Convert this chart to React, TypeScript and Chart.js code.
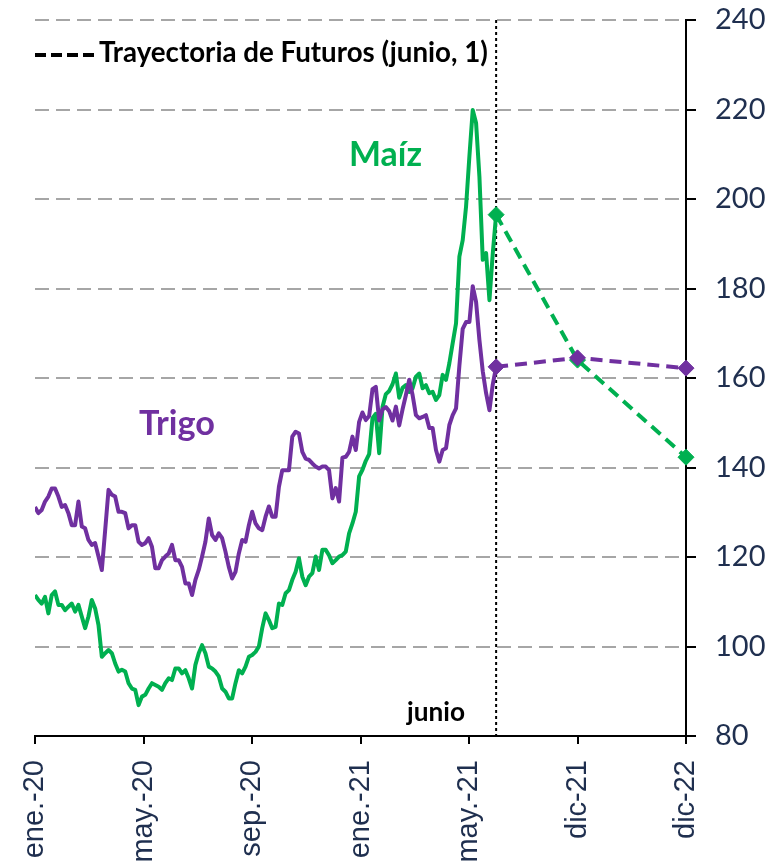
import React, { useEffect, useRef } from "react";
import { Chart, registerables } from "chart.js";

Chart.register(...registerables);

// ---- data -------------------------------------------------------------
// x axis: one unit per labelled tick (ene.-20 = 0 ... dic-22 = 6)
const xTickLabels = ["ene.-20", "may.-20", "sep.-20", "ene.-21", "may.-21", "dic-21", "dic-22"];
const yTickValues = [80, 100, 120, 140, 160, 180, 200, 220, 240];

// June 1st 2021 position on the tick axis (end of history, start of futures)
const junioX = 4.25;

// Historical index values, evenly spaced trading samples from ene.-20 to junio 1
const trigoHist = [
  131.2, 129.8, 130.5, 132.4, 133.5, 135.3, 135.3, 133.5, 131.2, 131.6,
  129.8, 127.1, 127.1, 132.4, 126.8, 126.4, 123.8, 122.7, 123.1, 120.1,
  117.1, 126.0, 135.0, 133.9, 133.5, 130.1, 130.1, 129.8, 126.4, 127.1,
  127.1, 123.4, 122.7, 123.1, 124.2, 122.3, 117.5, 117.5, 119.3, 120.1,
  120.8, 122.7, 119.3, 119.3, 117.8, 114.1, 114.1, 111.5, 114.9, 117.1,
  120.1, 123.4, 128.6, 124.9, 123.8, 125.3, 124.2, 121.2, 117.8, 115.2,
  116.7, 120.8, 123.8, 123.4, 127.1, 130.1, 127.5, 126.4, 126.0, 129.0,
  131.3, 129.0, 129.0, 135.7, 139.4, 139.4, 139.4, 146.9, 148.0, 147.6,
  143.5, 142.0, 141.7, 140.9, 140.2, 139.8, 140.2, 140.2, 139.4, 133.1,
  135.4, 132.4, 142.2, 142.4, 143.5, 146.9, 143.9, 150.2, 152.3, 150.6,
  151.5, 157.5, 158.0, 150.5, 153.0, 153.5, 152.6, 150.5, 153.6, 149.4,
  153.0, 156.2, 159.6, 156.2, 151.7, 151.0, 151.3, 151.7, 148.8, 148.8,
  143.9, 141.3, 143.9, 144.3, 149.5, 151.7, 153.2, 162.7, 171.0, 172.5,
  172.5, 180.5, 177.0, 168.5, 161.5, 156.6, 152.8, 158.6, 162.5,
];

const maizHist = [
  111.5, 110.4, 109.6, 111.1, 107.4, 111.5, 112.3, 109.3, 109.3, 108.1,
  108.9, 109.6, 107.8, 109.3, 106.7, 104.1, 106.7, 110.4, 108.5, 104.8,
  97.7, 98.5, 99.2, 98.5, 96.2, 94.4, 94.8, 94.4, 91.8, 90.6,
  90.3, 86.9, 88.8, 89.2, 90.6, 91.8, 91.4, 91.0, 90.3, 91.8,
  92.9, 92.5, 95.1, 95.1, 94.0, 94.7, 92.9, 90.6, 95.9, 98.5,
  100.3, 98.5, 95.5, 95.1, 94.4, 93.3, 90.6, 89.9, 88.4, 88.4,
  91.8, 94.7, 94.0, 95.5, 97.7, 98.1, 98.8, 100.0, 104.1, 107.4,
  105.9, 104.1, 104.4, 109.6, 109.3, 111.9, 112.6, 114.9, 116.7, 119.7,
  115.6, 113.7, 115.6, 116.4, 120.1, 117.1, 121.6, 121.6, 120.4, 118.6,
  119.3, 120.1, 120.4, 121.2, 125.3, 127.5, 130.1, 138.0, 139.5, 141.5,
  143.0, 151.0, 152.0, 143.2, 153.5, 156.4, 157.1, 158.6, 161.0, 155.6,
  157.8, 158.4, 156.9, 157.7, 160.3, 161.0, 157.7, 158.4, 156.6, 156.9,
  155.1, 156.2, 160.7, 159.6, 163.3, 167.8, 172.2, 187.1, 190.8, 198.3,
  209.5, 219.9, 217.0, 205.0, 186.4, 187.9, 177.4, 187.9, 196.5,
];

// Futures trajectory (junio 1): positions junio, dic-21, dic-22
const futuresX = [junioX, 5, 6];
const trigoFutures = [162.5, 164.5, 162.2];
const maizFutures = [196.5, 164.0, 142.3];

// ---- styles -------------------------------------------------------------
const GREEN = "#00B050";
const PURPLE = "#7030A0";
const NAVY = "#1F2F4F";
const GRID = "#A6A6A6";

const histPoints = (vals: number[]) =>
  vals.map((v, i) => ({ x: (i * junioX) / (vals.length - 1), y: v }));
const futPoints = (vals: number[]) => futuresX.map((x, i) => ({ x, y: vals[i] }));

function drawFitted(
  ctx: CanvasRenderingContext2D,
  text: string,
  x: number,
  baseline: number,
  targetW: number,
  family: string,
  color: string
) {
  ctx.font = `bold 40px ${family}`;
  const w = ctx.measureText(text).width;
  const size = (40 * targetW) / w;
  ctx.font = `bold ${size}px ${family}`;
  ctx.fillStyle = color;
  ctx.textAlign = "left";
  ctx.textBaseline = "alphabetic";
  ctx.fillText(text, x, baseline);
}

const overlayPlugin = {
  id: "overlay",
  beforeDatasetsDraw(chart: any) {
    const { ctx, chartArea, scales } = chart;
    const x = scales.x.getPixelForValue(junioX);
    ctx.save();
    ctx.strokeStyle = "#000";
    ctx.lineWidth = 2;
    ctx.setLineDash([3, 3]);
    ctx.beginPath();
    ctx.moveTo(x, chartArea.top);
    ctx.lineTo(x, chartArea.bottom);
    ctx.stroke();
    ctx.restore();
  },
  afterDraw(chart: any) {
    const { ctx } = chart;
    const fam = "Lato, 'Open Sans', sans-serif";
    ctx.save();
    // legend dash sample
    ctx.strokeStyle = "#000";
    ctx.lineWidth = 4;
    ctx.setLineDash([11, 5]);
    ctx.beginPath();
    ctx.moveTo(35, 55);
    ctx.lineTo(95, 55);
    ctx.stroke();
    ctx.setLineDash([]);
    drawFitted(ctx, "Trayectoria de Futuros (junio, 1)", 99, 62, 389, fam, "#000");
    drawFitted(ctx, "Maíz", 349, 166, 73, fam, GREEN);
    drawFitted(ctx, "Trigo", 139, 435, 76, fam, PURPLE);
    drawFitted(ctx, "junio", 407, 721, 58, fam, "#000");
    ctx.restore();
  },
};

export default function App() {
  const ref = useRef<HTMLCanvasElement | null>(null);

  useEffect(() => {
    document.body.style.margin = "0";
    const canvas = ref.current;
    if (!canvas) return;
    const chart = new Chart(canvas, {
      type: "line",
      data: {
        datasets: [
          {
            label: "Trigo futuros",
            data: futPoints(trigoFutures),
            borderColor: PURPLE,
            backgroundColor: PURPLE,
            borderWidth: 4,
            borderDash: [12, 7],
            pointStyle: "rectRot",
            pointRadius: 8,
            pointBorderWidth: 1,
            pointBackgroundColor: PURPLE,
            pointBorderColor: PURPLE,
            clip: false,
          },
          {
            label: "Maíz futuros",
            data: futPoints(maizFutures),
            borderColor: GREEN,
            backgroundColor: GREEN,
            borderWidth: 4,
            borderDash: [12, 7],
            pointStyle: "rectRot",
            pointRadius: 8,
            pointBorderWidth: 1,
            pointBackgroundColor: GREEN,
            pointBorderColor: GREEN,
            clip: false,
          },
          {
            label: "Trigo",
            data: histPoints(trigoHist),
            borderColor: PURPLE,
            borderWidth: 4,
            pointRadius: 0,
            tension: 0,
            borderJoinStyle: "round",
          },
          {
            label: "Maíz",
            data: histPoints(maizHist),
            borderColor: GREEN,
            borderWidth: 4,
            pointRadius: 0,
            tension: 0,
            borderJoinStyle: "round",
          },
        ],
      } as any,
      options: {
        animation: false,
        responsive: false,
        maintainAspectRatio: false,
        layout: { padding: { top: 20, left: 35, right: 0, bottom: 0 } },
        plugins: {
          legend: { display: false },
          tooltip: { enabled: false },
          title: { display: false },
        },
        scales: {
          x: {
            type: "linear",
            position: "bottom",
            min: 0,
            max: xTickLabels.length - 1,
            afterBuildTicks: (s: any) => {
              s.ticks = xTickLabels.map((_, i) => ({ value: i }));
            },
            afterFit: (s: any) => {
              s.height = 128;
            },
            ticks: {
              autoSkip: false,
              minRotation: 90,
              maxRotation: 90,
              padding: 16,
              color: NAVY,
              font: { family: "'Liberation Sans', Arial, sans-serif", size: 29 },
              callback: (v: any) => xTickLabels[Math.round(v)] ?? "",
            },
            grid: {
              drawOnChartArea: false,
              drawTicks: true,
              tickLength: 8,
              tickColor: "#000",
              tickWidth: 2,
              color: "#000",
              lineWidth: 2,
            },
            border: { display: true, color: "#000", width: 2 },
          },
          y: {
            type: "linear",
            position: "right",
            min: yTickValues[0],
            max: yTickValues[yTickValues.length - 1],
            afterBuildTicks: (s: any) => {
              s.ticks = yTickValues.map((v) => ({ value: v }));
            },
            afterFit: (s: any) => {
              s.width = 93;
              s.paddingTop = 0;
              s.paddingBottom = 0;
            },
            ticks: {
              padding: 19,
              color: NAVY,
              font: { family: "Lato, 'Open Sans', sans-serif", size: 29 },
              callback: (v: any) => String(v),
            },
            grid: {
              color: (c: any) => (c.tick && c.tick.value === yTickValues[0] ? "rgba(0,0,0,0)" : GRID),
              lineWidth: 2,
              drawTicks: true,
              tickLength: 10,
              tickColor: "#000",
              tickWidth: 2,
              tickBorderDash: [],
            },
            border: { display: true, color: "#000", width: 2, dash: [14, 7] },
          },
        },
      } as any,
      plugins: [overlayPlugin],
    });
    return () => chart.destroy();
  }, []);

  return (
    <div style={{ position: "absolute", left: 0, top: 0, width: 779, height: 864 }}>
      <canvas ref={ref} width={779} height={864} style={{ width: 779, height: 864, display: "block" }} />
    </div>
  );
}
